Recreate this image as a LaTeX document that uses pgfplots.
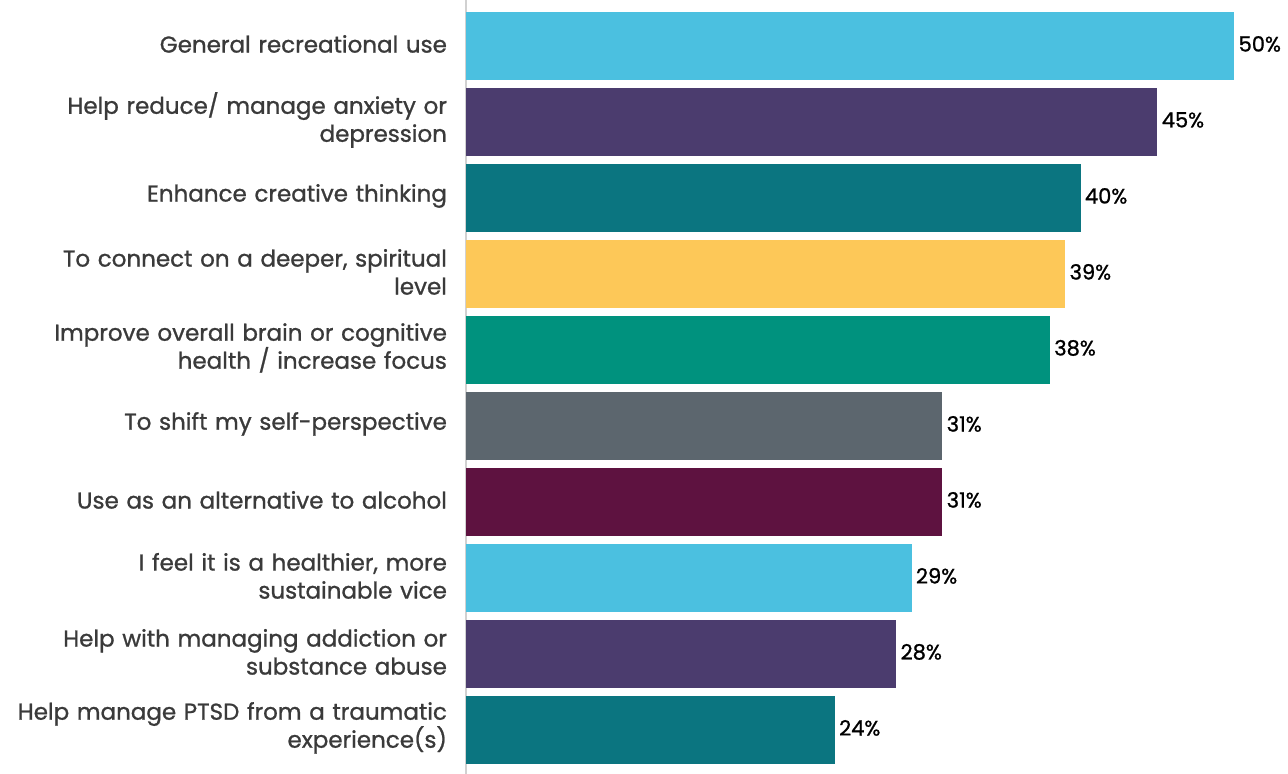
\documentclass[border=0pt]{standalone}
\usepackage{pgfplots}
\pgfplotsset{compat=1.18}
\usepackage{fontspec}
\setmainfont{Poppins}
\newfontfamily\medfont{Poppins}[FakeBold=1]
\definecolor{cblue}{HTML}{4BC0E0}
\definecolor{cpurple}{HTML}{4B3C6E}
\definecolor{cteal}{HTML}{0B7580}
\definecolor{cyellow}{HTML}{FDC858}
\definecolor{cgreen}{HTML}{00927E}
\definecolor{cgray}{HTML}{5C666E}
\definecolor{cmaroon}{HTML}{5E1240}
\definecolor{labgray}{HTML}{3A3A3A}
\begin{document}
\begin{tikzpicture}
\path[use as bounding box] (-233pt,0) rectangle (411pt,387pt);
\begin{axis}[
  at={(0,0)}, anchor=south west,
  scale only axis, width=411pt, height=387pt,
  xmin=0, xmax=53.5,
  ymin=-0.605, ymax=9.58, y dir=reverse,
  axis x line=none,
  axis y line=left,
  y axis line style={draw=black!18, line width=1.2pt, -},
  ytick={0,...,9},
  major tick length=0pt,
  yticklabels={
    {General recreational use},
    {Help reduce/ manage anxiety or\\depression},
    {Enhance creative thinking},
    {To connect on a deeper, spiritual\\level},
    {Improve overall brain or cognitive\\health / increase focus},
    {To shift my self-perspective},
    {Use as an alternative to alcohol},
    {I feel it is a healthier, more\\sustainable vice},
    {Help with managing addiction or\\substance abuse},
    {Help manage PTSD from a traumatic\\experience(s)}},
  yticklabel style={text width=220pt, align=right, font=\medfont\fontsize{11.5}{14}\selectfont, text=labgray, xshift=-6pt, yshift=1pt},
  xbar, bar width=0.895, bar shift=0pt,
  clip=false,
  /pgf/number format/assume math mode=true,
  nodes near coords={\pgfmathprintnumber{\pgfplotspointmeta}\%},
  nodes near coords style={anchor=west, inner sep=1pt, xshift=1pt, yshift=1pt, font=\medfont\fontsize{10.5}{12}\selectfont, text=black},
  every axis plot/.append style={draw=none},
]
\addplot[fill=cblue] coordinates {(50,0)};
\addplot[fill=cpurple] coordinates {(45,1)};
\addplot[fill=cteal] coordinates {(40,2)};
\addplot[fill=cyellow] coordinates {(39,3)};
\addplot[fill=cgreen] coordinates {(38,4)};
\addplot[fill=cgray] coordinates {(31,5)};
\addplot[fill=cmaroon] coordinates {(31,6)};
\addplot[fill=cblue] coordinates {(29,7)};
\addplot[fill=cpurple] coordinates {(28,8)};
\addplot[fill=cteal] coordinates {(24,9)};
\end{axis}
\end{tikzpicture}
\end{document}
